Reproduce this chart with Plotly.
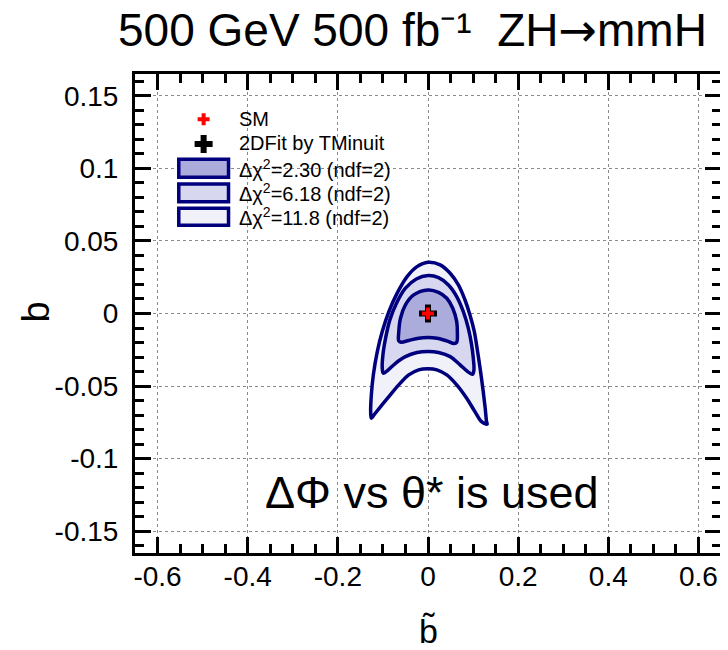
import plotly.graph_objects as go

# ---------------- data ----------------
xtick_vals = [-0.6, -0.4, -0.2, 0.0, 0.2, 0.4, 0.6]
xtick_text = ["-0.6", "-0.4", "-0.2", "0", "0.2", "0.4", "0.6"]
ytick_vals = [-0.15, -0.1, -0.05, 0.0, 0.05, 0.1, 0.15]
ytick_text = ["-0.15", "-0.1", "-0.05", "0", "0.05", "0.1", "0.15"]

# Delta chi2 = 11.8 contour (b-tilde, b)
btilde_11p8 = [0.000, 0.0270, 0.0491, 0.0674, 0.0821, 0.0931, 0.1027, 0.1100, 0.1166, 0.1225,
               0.1269, 0.1299, 0.1313, 0.1188, 0.1041, 0.0858, 0.0637, 0.0417, 0.0197, 0.000,
               -0.0207, -0.0427, -0.0648, -0.0868, -0.1052, -0.1198, -0.1257, -0.1272, -0.1257,
               -0.1213, -0.1125, -0.1015, -0.0868, -0.0684, -0.0464, -0.0244]
b_11p8 = [0.0353, 0.0335, 0.0277, 0.0197, 0.0093, -0.0010, -0.0124, -0.0262, -0.0400, -0.0538,
          -0.0652, -0.0745, -0.0763, -0.0745, -0.0676, -0.0584, -0.0492, -0.0423, -0.0388, -0.0381,
          -0.0388, -0.0423, -0.0492, -0.0572, -0.0641, -0.0699, -0.0721, -0.0675, -0.0561,
          -0.0423, -0.0262, -0.0124, 0.0013, 0.0140, 0.0254, 0.0323]

# Delta chi2 = 6.18 contour
btilde_6p18 = [0.000, 0.0234, 0.0454, 0.0637, 0.0784, 0.0894, 0.0968, 0.1005, 0.1019, 0.0990,
               0.0894, 0.0711, 0.0491, 0.0234, 0.000, -0.0244, -0.0501, -0.0721, -0.0905, -0.0993,
               -0.1015, -0.1000, -0.0941, -0.0846, -0.0699, -0.0501, -0.0259]
b_6p18 = [0.0261, 0.0247, 0.0197, 0.0117, 0.0013, -0.0101, -0.0216, -0.0308, -0.0388, -0.0418,
          -0.0404, -0.0354, -0.0297, -0.0269, -0.0262, -0.0269, -0.0297, -0.0343, -0.0395, -0.0411,
          -0.0377, -0.0285, -0.0170, -0.0044, 0.0071, 0.0174, 0.0238]

# Delta chi2 = 2.30 contour
btilde_2p30 = [0.000, 0.0234, 0.0417, 0.0549, 0.0637, 0.0652, 0.0637, 0.0579, 0.0417, 0.0197,
               0.000, -0.0207, -0.0427, -0.0596, -0.0648, -0.0648, -0.0611, -0.0501, -0.0318]
b_2p30 = [0.0162, 0.0146, 0.0105, 0.0036, -0.0056, -0.0136, -0.0198, -0.0207, -0.0189, -0.0170,
          -0.0166, -0.0170, -0.0186, -0.0198, -0.0189, -0.0125, -0.0033, 0.0059, 0.0128]

sm_btilde, sm_b = [0.0], [0.0]
fit_btilde, fit_b = [0.0], [0.0]

legend_labels = ["SM", "2DFit by TMinuit",
                 "Δχ<sup>2</sup>=2.30 (ndf=2)",
                 "Δχ<sup>2</sup>=6.18 (ndf=2)",
                 "Δχ<sup>2</sup>=11.8 (ndf=2)"]

# ---------------- style ----------------
FONT = "Liberation Sans, Arial, Helvetica, sans-serif"
NAVY = "#00007f"
FILL_IN = "#acacdc"
FILL_MID = "#d7d7f0"
FILL_OUT = "#f1f1fa"

fig = go.Figure()


def closed(a):
    return list(a) + [a[0]]


for bx, by, fc in [(btilde_11p8, b_11p8, FILL_OUT),
                   (btilde_6p18, b_6p18, FILL_MID),
                   (btilde_2p30, b_2p30, FILL_IN)]:
    fig.add_trace(go.Scatter(x=closed(bx), y=closed(by), mode="lines", fill="toself",
                             fillcolor=fc, line=dict(color=NAVY, width=3.5, shape="spline",
                                                     smoothing=1.0),
                             showlegend=False, hoverinfo="skip"))

fig.add_trace(go.Scatter(x=fit_btilde, y=fit_b, mode="markers",
                         marker=dict(symbol="cross", size=15, color="black"),
                         showlegend=False))
fig.add_trace(go.Scatter(x=sm_btilde, y=sm_b, mode="markers",
                         marker=dict(symbol="cross", size=10, color="red"),
                         showlegend=False))

# ---------------- manual ROOT-style legend ----------------
# legend key markers on an invisible overlay axis spanning the plot area (0..1)
fig.add_trace(go.Scatter(x=[0.1171], y=[0.9054], xaxis="x2", yaxis="y2", mode="markers",
                         marker=dict(symbol="cross", size=10, color="red"),
                         showlegend=False, hoverinfo="skip"))
fig.add_trace(go.Scatter(x=[0.1171], y=[0.8539], xaxis="x2", yaxis="y2", mode="markers",
                         marker=dict(symbol="cross", size=15, color="black"),
                         showlegend=False, hoverinfo="skip"))

shapes = []
box_y = [(0.7843, 0.8219), (0.7334, 0.7704), (0.6841, 0.7196)]
for (y0, y1), fc in zip(box_y, [FILL_IN, FILL_MID, FILL_OUT]):
    shapes.append(dict(type="rect", xref="paper", yref="paper", x0=0.0747, x1=0.1596,
                       y0=y0, y1=y1, fillcolor=fc, line=dict(color=NAVY, width=3.5),
                       layer="above"))

annotations = []
text_y = [0.9061, 0.8566, 0.8027, 0.7516, 0.7015]
for lab, ty in zip(legend_labels, text_y):
    annotations.append(dict(text=lab, xref="paper", yref="paper", x=0.1749, y=ty,
                            xanchor="left", yanchor="middle", showarrow=False,
                            font=dict(family=FONT, size=20, color="black")))

# title
annotations.append(dict(
    text="500 GeV 500 fb\u207b\u00b9\u00a0\u00a0ZH<span style=\"font-family:DejaVu Sans\">→</span>mmH",
    xref="paper", yref="paper", x=0.4737, y=1.091, xanchor="center", yanchor="middle",
    showarrow=False, font=dict(family=FONT, size=46, color="black")))
# in-plot note
annotations.append(dict(text="ΔΦ vs θ* is used", xref="paper", yref="paper", x=0.5076,
                        y=0.127, xanchor="center", yanchor="middle", showarrow=False,
                        font=dict(family=FONT, size=45, color="black")))
# axis titles
annotations.append(dict(text="b", xref="paper", yref="paper", x=-0.168, y=0.503,
                        xanchor="center", yanchor="middle", textangle=-90, showarrow=False,
                        font=dict(family=FONT, size=38, color="black")))
annotations.append(dict(text="b\u0303", xref="paper", yref="paper", x=0.5017, y=-0.162,
                        xanchor="center", yanchor="middle", showarrow=False,
                        font=dict(family=FONT, size=34, color="black")))

axis_common = dict(showline=True, linewidth=3, linecolor="black", mirror="ticks",
                   ticks="inside", tickwidth=3, tickcolor="black",
                   showgrid=True, gridcolor="#8a8a8a", griddash="dot", gridwidth=1,
                   zeroline=False, tickfont=dict(family=FONT, size=28, color="black"))

# The page body has an 8 px margin, so the figure is 8 px smaller on each axis
fig.update_layout(
    width=720, height=642,
    margin=dict(l=127, r=4, t=66, b=97),
    paper_bgcolor="white", plot_bgcolor="white",
    font=dict(family=FONT, color="black"),
    xaxis=dict(range=[-0.65, 0.65], tickmode="array", tickvals=xtick_vals, ticktext=xtick_text,
               ticklen=16, ticklabelstandoff=-4,
               minor=dict(dtick=0.05, tick0=0, ticks="inside", ticklen=9, tickwidth=3,
                          tickcolor="black", showgrid=False),
               **axis_common),
    yaxis=dict(range=[-0.165, 0.165], tickmode="array", tickvals=ytick_vals, ticktext=ytick_text,
               ticklen=16, ticklabelstandoff=8,
               minor=dict(dtick=0.01, tick0=0, ticks="inside", ticklen=9, tickwidth=3,
                          tickcolor="black", showgrid=False),
               **axis_common),
    xaxis2=dict(overlaying="x", range=[0, 1], visible=False, fixedrange=True),
    yaxis2=dict(overlaying="y", range=[0, 1], visible=False, fixedrange=True),
    shapes=shapes,
    annotations=annotations,
)

fig.write_html("out.html")
